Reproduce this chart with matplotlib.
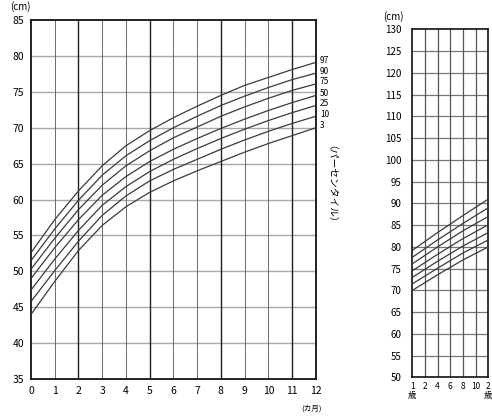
"""Infant length percentile chart (0-12 months, plus 1-2 year strip)."""

import matplotlib

matplotlib.use("Agg")

import matplotlib.pyplot as plt

plt.rcParams["font.family"] = ["Noto Sans CJK JP", "DejaVu Sans"]

# --- data --------------------------------------------------------------
months = [0, 1, 2, 3, 4, 5, 6, 7, 8, 9, 10, 11, 12]
percentiles = ["3", "10", "25", "50", "75", "90", "97"]
length_p3 = [44.0, 48.6, 52.9, 56.4, 59.0, 61.0, 62.6, 64.0, 65.3, 66.6, 67.8, 68.9, 70.0]
length_p10 = [45.8, 50.1, 54.2, 57.8, 60.5, 62.6, 64.2, 65.6, 67.0, 68.3, 69.5, 70.6, 71.6]
length_p25 = [47.4, 51.7, 55.7, 59.2, 61.8, 63.9, 65.6, 67.1, 68.5, 69.8, 71.0, 72.1, 73.1]
length_p50 = [49.0, 53.3, 57.2, 60.6, 63.2, 65.3, 67.0, 68.5, 69.9, 71.2, 72.4, 73.5, 74.5]
length_p75 = [50.3, 54.6, 58.6, 62.0, 64.7, 66.8, 68.6, 70.1, 71.6, 72.9, 74.1, 75.2, 76.1]
length_p90 = [51.5, 55.9, 59.9, 63.4, 66.1, 68.2, 70.0, 71.6, 73.1, 74.4, 75.6, 76.7, 77.6]
length_p97 = [52.6, 57.2, 61.2, 64.7, 67.5, 69.6, 71.4, 73.0, 74.5, 75.9, 77.0, 78.1, 79.1]
infant_curves = [length_p3, length_p10, length_p25, length_p50, length_p75, length_p90, length_p97]

# toddler strip: 12..24 months
toddler_months = [12, 16, 20, 24]
toddler_p3 = [70.0, 73.6, 77.0, 80.0]
toddler_p10 = [71.5, 75.1, 78.6, 81.6]
toddler_p25 = [73.0, 76.7, 80.2, 83.3]
toddler_p50 = [74.5, 78.3, 81.9, 85.1]
toddler_p75 = [76.1, 80.0, 83.7, 87.0]
toddler_p90 = [77.6, 81.6, 85.4, 89.0]
toddler_p97 = [79.2, 83.3, 87.2, 91.0]
toddler_curves = [toddler_p3, toddler_p10, toddler_p25, toddler_p50,
                  toddler_p75, toddler_p90, toddler_p97]

infant_yticks = list(range(35, 90, 5))
toddler_yticks = list(range(50, 135, 5))
toddler_xticks = [12, 14, 16, 18, 20, 22, 24]
toddler_xlabels = ["1\n歳", "2", "4", "6", "8", "10", "2\n歳"]

CURVE = "#3a3a3a"
HGRID = "#a8a8a8"
VGRID = "#6a6a6a"

fig = plt.figure(figsize=(4.92, 4.17), dpi=100)

# --- left: 0-12 months --------------------------------------------------
ax = fig.add_axes([0.063, 0.091, 0.579, 0.861])
ax.set_xlim(0, 12)
ax.set_ylim(35, 85)

for y in infant_yticks[1:-1]:
    ax.axhline(y, color=HGRID, lw=1.0, zorder=1)
for m in months[1:-1]:
    strong = m in (2, 5, 8, 11)
    ax.axvline(m, color="#202020" if strong else VGRID,
               lw=1.0 if strong else 0.7, zorder=1)

for vals in infant_curves:
    ax.plot(months, vals, color=CURVE, lw=0.9, zorder=3)

for lab, vals in zip(percentiles, infant_curves):
    ax.annotate(lab, xy=(12, vals[-1]), xytext=(3, 1.5), textcoords="offset points",
                fontsize=6, va="center", ha="left", annotation_clip=False)

ax.text(1.018, 0.53, "（パーセンタイル）", transform=ax.transAxes, rotation=270,
        fontsize=7, ha="left", va="center")

ax.set_xticks(months)
ax.set_yticks(infant_yticks)
ax.tick_params(length=0, labelsize=7.5, pad=5)
for side in ax.spines.values():
    side.set_linewidth(1.3)
    side.set_color("#111111")
fig.text(10 / 492, 1 - 7 / 417, "(cm)", fontsize=7, ha="left", va="center")
ax.text(1.02, -0.07, "(カ月)", transform=ax.transAxes, fontsize=5.5, ha="right", va="top")

# --- right: 1-2 years (cut off at the figure edge) -----------------------
ax2 = fig.add_axes([0.838, 0.095, 0.1545, 0.8345])
ax2.set_xlim(12, 24)
ax2.set_ylim(50, 130)

for y in toddler_yticks[1:-1]:
    ax2.axhline(y, color="#777777", lw=0.9, zorder=1)
for m in toddler_xticks[1:-1]:
    ax2.axvline(m, color="#555555", lw=0.9, zorder=1)

for vals in toddler_curves:
    ax2.plot(toddler_months, vals, color=CURVE, lw=0.9, zorder=3)

ax2.set_yticks(toddler_yticks)
ax2.set_xticks(toddler_xticks)
ax2.set_xticklabels(toddler_xlabels, linespacing=1.0)
ax2.tick_params(axis="y", length=0, labelsize=7, pad=8)
ax2.tick_params(axis="x", length=0, labelsize=6, pad=3)
for side in ax2.spines.values():
    side.set_linewidth(1.2)
    side.set_color("#111111")
ax2.text(-0.38, 1.02, "(cm)", transform=ax2.transAxes, fontsize=7, ha="left", va="bottom")

fig.savefig("out.png", dpi=100)
